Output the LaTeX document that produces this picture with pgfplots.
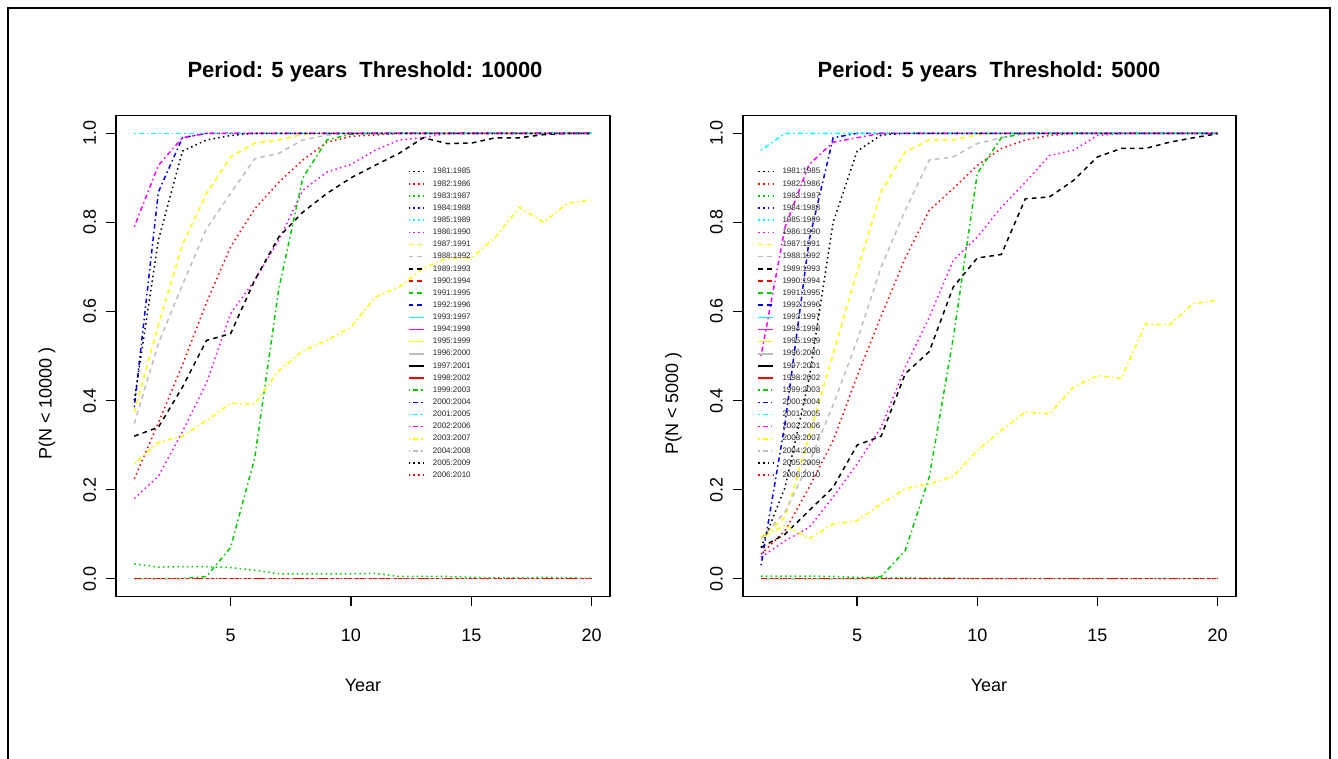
\documentclass[border=0pt]{standalone}
\usepackage{pgfplots}
\pgfplotsset{compat=1.18}
\usepackage{pgfplotstable}
\usepackage{fontspec}
\setmainfont{Liberation Sans}
\definecolor{rred}{HTML}{FF0000}
\definecolor{rgreen}{HTML}{00CD00}
\definecolor{rblue}{HTML}{0000FF}
\definecolor{rcyan}{HTML}{00FFFF}
\definecolor{rmag}{HTML}{FF00FF}
\definecolor{ryel}{HTML}{FFFF00}
\definecolor{rgray}{HTML}{BEBEBE}
\tikzset{
 rdot/.style={dash pattern=on 0.75pt off 1.65pt},
 rdash/.style={dash pattern=on 2.3pt off 2.1pt},
 rsol/.style={solid},
 rdd/.style={dash pattern=on 0.75pt off 1.6pt on 2.3pt off 1.6pt},
}
\pgfplotsset{
 every axis plot/.append style={line width=0.75pt},
 rbase/.style={
  scale only axis, anchor=north west,
  xmin=0.24, xmax=20.76, ymin=-0.04, ymax=1.04,
  xtick={5,10,15,20}, xticklabels={5,10,15,20},
  ytick={0,0.2,0.4,0.6,0.8,1}, yticklabels={0.0,0.2,0.4,0.6,0.8,1.0},
  tick align=outside, major tick length=5pt,
  xtick pos=lower, ytick pos=left,
  axis line style={line width=0.7pt},
  tick style={line width=0.7pt, black},
  xticklabel style={font=\fontsize{9}{10}\selectfont, inner sep=0pt, anchor=north},
  xticklabel shift=11pt,
  yticklabel style={font=\fontsize{9}{10}\selectfont, inner sep=0pt, rotate=90, anchor=south},
  yticklabel shift=4.75pt,
  legend style={anchor=north west, draw=none, fill=none, inner sep=0pt,
    font=\fontsize{4}{5}\selectfont, text=black!85,
    nodes={inner sep=0.5pt, text height=3pt, text depth=0.8pt},
    row sep=1.27pt, column sep=3.75pt},
  legend cell align=left,
  legend image code/.code={\draw[##1] (0pt,0pt) -- (7.5pt,0pt);},
  axis on top,
 },
}
\pgfplotstableread{
x y
1 0
2 0
3 0
4 0
5 0
6 0
7 0
8 0
9 0
10 0
11 0
12 0
13 0
14 0
15 0
16 0
17 0
18 0
19 0
20 0
}\zerotab
\begin{document}
\begin{tikzpicture}
\useasboundingbox (0,0) rectangle (669pt,379.5pt);
\draw[line width=1pt] (4pt,-2pt) -- (4pt,375.5pt) -- (665pt,375.5pt) -- (665pt,-2pt);
% ---------------- left panel
\begin{axis}[rbase, at={(58pt,321.75pt)}, width=247pt, height=240.5pt,
  legend style={at={(0.590,0.894)}}]
\addplot[black,rdot] table {\zerotab}; \addlegendentry{1981:1985}
\addplot[rred,rdot] coordinates {(1,0.224)(2,0.35)(3,0.48)(4,0.62)(5,0.745)(6,0.83)(7,0.89)(8,0.94)(9,0.98)(10,0.993)(11,0.996)(12,1)(13,1)(14,1)(15,1)(16,1)(17,1)(18,1)(19,1)(20,1)}; \addlegendentry{1982:1986}
\addplot[rgreen,rdot] coordinates {(1,0.033)(2,0.026)(3,0.027)(4,0.027)(5,0.025)(6,0.019)(7,0.011)(8,0.011)(9,0.011)(10,0.011)(11,0.012)(12,0.005)(13,0.005)(14,0.005)(15,0.003)(16,0.002)(17,0.002)(18,0.003)(19,0.002)(20,0.001)}; \addlegendentry{1983:1987}
\addplot[rblue,rdot] table {\zerotab}; \addlegendentry{1984:1988}
\addplot[rcyan,rdot] table {\zerotab}; \addlegendentry{1985:1989}
\addplot[rmag,rdot] coordinates {(1,0.18)(2,0.23)(3,0.33)(4,0.44)(5,0.595)(6,0.67)(7,0.76)(8,0.872)(9,0.913)(10,0.93)(11,0.962)(12,0.985)(13,0.99)(14,1)(15,1)(16,1)(17,1)(18,1)(19,1)(20,1)}; \addlegendentry{1986:1990}
\addplot[ryel,rdash] coordinates {(1,0.374)(2,0.57)(3,0.75)(4,0.865)(5,0.947)(6,0.978)(7,0.985)(8,0.998)(9,1)(10,1)(11,1)(12,1)(13,1)(14,1)(15,1)(16,1)(17,1)(18,1)(19,1)(20,1)}; \addlegendentry{1987:1991}
\addplot[rgray,rdash] coordinates {(1,0.348)(2,0.528)(3,0.66)(4,0.786)(5,0.865)(6,0.943)(7,0.955)(8,0.985)(9,0.996)(10,1)(11,1)(12,1)(13,1)(14,1)(15,1)(16,1)(17,1)(18,1)(19,1)(20,1)}; \addlegendentry{1988:1992}
\addplot[black,rdash] coordinates {(1,0.32)(2,0.34)(3,0.43)(4,0.535)(5,0.55)(6,0.67)(7,0.767)(8,0.823)(9,0.865)(10,0.90)(11,0.928)(12,0.955)(13,0.99)(14,0.977)(15,0.978)(16,0.99)(17,0.99)(18,0.997)(19,1)(20,1)}; \addlegendentry{1989:1993}
\addplot[rred,rdash] table {\zerotab}; \addlegendentry{1990:1994}
\addplot[rgreen,rdash] table {\zerotab}; \addlegendentry{1991:1995}
\addplot[rblue,rdash] table {\zerotab}; \addlegendentry{1992:1996}
\addplot[rcyan,rsol] table {\zerotab}; \addlegendentry{1993:1997}
\addplot[rmag,rsol] table {\zerotab}; \addlegendentry{1994:1998}
\addplot[ryel,rsol] table {\zerotab}; \addlegendentry{1995:1999}
\addplot[rgray,rsol] table {\zerotab}; \addlegendentry{1996:2000}
\addplot[black,rsol] table {\zerotab}; \addlegendentry{1997:2001}
\addplot[rred,rsol] table {\zerotab}; \addlegendentry{1998:2002}
\addplot[rgreen,rdd] coordinates {(1,0)(2,0)(3,0)(4,0.005)(5,0.07)(6,0.27)(7,0.65)(8,0.90)(9,0.985)(10,0.998)(11,1)(12,1)(13,1)(14,1)(15,1)(16,1)(17,1)(18,1)(19,1)(20,1)}; \addlegendentry{1999:2003}
\addplot[rblue,rdd] coordinates {(1,0.385)(2,0.868)(3,0.99)(4,1)(5,1)(6,1)(7,1)(8,1)(9,1)(10,1)(11,1)(12,1)(13,1)(14,1)(15,1)(16,1)(17,1)(18,1)(19,1)(20,1)}; \addlegendentry{2000:2004}
\addplot[rcyan,rdd] coordinates {(1,1)(2,1)(3,1)(4,1)(5,1)(6,1)(7,1)(8,1)(9,1)(10,1)(11,1)(12,1)(13,1)(14,1)(15,1)(16,1)(17,1)(18,1)(19,1)(20,1)}; \addlegendentry{2001:2005}
\addplot[rmag,rdd] coordinates {(1,0.79)(2,0.928)(3,0.99)(4,1)(5,1)(6,1)(7,1)(8,1)(9,1)(10,1)(11,1)(12,1)(13,1)(14,1)(15,1)(16,1)(17,1)(18,1)(19,1)(20,1)}; \addlegendentry{2002:2006}
\addplot[ryel,rdd] coordinates {(1,0.258)(2,0.306)(3,0.32)(4,0.355)(5,0.394)(6,0.392)(7,0.467)(8,0.512)(9,0.535)(10,0.565)(11,0.632)(12,0.655)(13,0.697)(14,0.72)(15,0.72)(16,0.767)(17,0.834)(18,0.80)(19,0.843)(20,0.85)}; \addlegendentry{2003:2007}
\addplot[rgray,rdd] table {\zerotab}; \addlegendentry{2004:2008}
\addplot[black,rdot] coordinates {(1,0.40)(2,0.76)(3,0.96)(4,0.985)(5,0.995)(6,1)(7,1)(8,1)(9,1)(10,1)(11,1)(12,1)(13,1)(14,1)(15,1)(16,1)(17,1)(18,1)(19,1)(20,1)}; \addlegendentry{2005:2009}
\addplot[rred,rdot] table {\zerotab}; \addlegendentry{2006:2010}
\end{axis}
% ---------------- right panel
\begin{axis}[rbase, at={(371.4pt,321.75pt)}, width=246.5pt, height=240.5pt,
  legend style={at={(0.029,0.894)}}]
\addplot[black,rdot] table {\zerotab}; \addlegendentry{1981:1985}
\addplot[rred,rdot] coordinates {(1,0.055)(2,0.108)(3,0.205)(4,0.31)(5,0.455)(6,0.59)(7,0.72)(8,0.827)(9,0.876)(10,0.928)(11,0.966)(12,0.985)(13,0.995)(14,1)(15,1)(16,1)(17,1)(18,1)(19,1)(20,1)}; \addlegendentry{1982:1986}
\addplot[rgreen,rdot] coordinates {(1,0.006)(2,0.006)(3,0.006)(4,0.005)(5,0.003)(6,0.002)(7,0.002)(8,0.001)(9,0.001)(10,0)(11,0)(12,0)(13,0)(14,0)(15,0)(16,0)(17,0)(18,0)(19,0)(20,0)}; \addlegendentry{1983:1987}
\addplot[rblue,rdot] table {\zerotab}; \addlegendentry{1984:1988}
\addplot[rcyan,rdot] table {\zerotab}; \addlegendentry{1985:1989}
\addplot[rmag,rdot] coordinates {(1,0.048)(2,0.085)(3,0.115)(4,0.183)(5,0.258)(6,0.34)(7,0.475)(8,0.587)(9,0.715)(10,0.767)(11,0.834)(12,0.89)(13,0.95)(14,0.962)(15,0.995)(16,1)(17,1)(18,1)(19,1)(20,1)}; \addlegendentry{1986:1990}
\addplot[ryel,rdash] coordinates {(1,0.093)(2,0.138)(3,0.32)(4,0.505)(5,0.69)(6,0.87)(7,0.958)(8,0.985)(9,0.985)(10,0.997)(11,1)(12,1)(13,1)(14,1)(15,1)(16,1)(17,1)(18,1)(19,1)(20,1)}; \addlegendentry{1987:1991}
\addplot[rgray,rdash] coordinates {(1,0.09)(2,0.15)(3,0.26)(4,0.39)(5,0.535)(6,0.70)(7,0.827)(8,0.94)(9,0.947)(10,0.977)(11,0.99)(12,1)(13,1)(14,1)(15,1)(16,1)(17,1)(18,1)(19,1)(20,1)}; \addlegendentry{1988:1992}
\addplot[black,rdash] coordinates {(1,0.07)(2,0.10)(3,0.153)(4,0.205)(5,0.30)(6,0.32)(7,0.46)(8,0.51)(9,0.655)(10,0.72)(11,0.728)(12,0.853)(13,0.857)(14,0.894)(15,0.947)(16,0.966)(17,0.966)(18,0.98)(19,0.99)(20,0.999)}; \addlegendentry{1989:1993}
\addplot[rred,rdash] table {\zerotab}; \addlegendentry{1990:1994}
\addplot[rgreen,rdash] table {\zerotab}; \addlegendentry{1991:1995}
\addplot[rblue,rdash] table {\zerotab}; \addlegendentry{1992:1996}
\addplot[rcyan,rsol] table {\zerotab}; \addlegendentry{1993:1997}
\addplot[rmag,rsol] table {\zerotab}; \addlegendentry{1994:1998}
\addplot[ryel,rsol] table {\zerotab}; \addlegendentry{1995:1999}
\addplot[rgray,rsol] table {\zerotab}; \addlegendentry{1996:2000}
\addplot[black,rsol] table {\zerotab}; \addlegendentry{1997:2001}
\addplot[rred,rsol] table {\zerotab}; \addlegendentry{1998:2002}
\addplot[rgreen,rdd] coordinates {(1,0)(2,0)(3,0)(4,0)(5,0)(6,0.005)(7,0.063)(8,0.228)(9,0.54)(10,0.91)(11,0.99)(12,1)(13,1)(14,1)(15,1)(16,1)(17,1)(18,1)(19,1)(20,1)}; \addlegendentry{1999:2003}
\addplot[rblue,rdd] coordinates {(1,0.03)(2,0.35)(3,0.76)(4,0.99)(5,1)(6,1)(7,1)(8,1)(9,1)(10,1)(11,1)(12,1)(13,1)(14,1)(15,1)(16,1)(17,1)(18,1)(19,1)(20,1)}; \addlegendentry{2000:2004}
\addplot[rcyan,rdd] coordinates {(1,0.962)(2,1)(3,1)(4,1)(5,1)(6,1)(7,1)(8,1)(9,1)(10,1)(11,1)(12,1)(13,1)(14,1)(15,1)(16,1)(17,1)(18,1)(19,1)(20,1)}; \addlegendentry{2001:2005}
\addplot[rmag,rdd] coordinates {(1,0.50)(2,0.79)(3,0.93)(4,0.98)(5,0.99)(6,1)(7,1)(8,1)(9,1)(10,1)(11,1)(12,1)(13,1)(14,1)(15,1)(16,1)(17,1)(18,1)(19,1)(20,1)}; \addlegendentry{2002:2006}
\addplot[ryel,rdd] coordinates {(1,0.092)(2,0.12)(3,0.09)(4,0.123)(5,0.13)(6,0.168)(7,0.202)(8,0.213)(9,0.23)(10,0.288)(11,0.333)(12,0.374)(13,0.37)(14,0.43)(15,0.456)(16,0.45)(17,0.572)(18,0.57)(19,0.618)(20,0.625)}; \addlegendentry{2003:2007}
\addplot[rgray,rdd] table {\zerotab}; \addlegendentry{2004:2008}
\addplot[black,rdot] coordinates {(1,0.07)(2,0.205)(3,0.45)(4,0.80)(5,0.96)(6,0.996)(7,1)(8,1)(9,1)(10,1)(11,1)(12,1)(13,1)(14,1)(15,1)(16,1)(17,1)(18,1)(19,1)(20,1)}; \addlegendentry{2005:2009}
\addplot[rred,rdot] table {\zerotab}; \addlegendentry{2006:2010}
\end{axis}
% ---------------- titles and labels
\node[font=\bfseries\fontsize{11}{13}\selectfont, anchor=base] at (182.5pt,340.5pt) {Period: 5 years\ \ Threshold: 10000};
\node[font=\bfseries\fontsize{11}{13}\selectfont, anchor=base] at (494.5pt,340.5pt) {Period: 5 years\ \ Threshold: 5000};
\node[font=\fontsize{9}{10}\selectfont, anchor=base] at (181.5pt,33.75pt) {Year};
\node[font=\fontsize{9}{10}\selectfont, anchor=base] at (494.5pt,33.75pt) {Year};
\node[font=\fontsize{9}{10}\selectfont, rotate=90, anchor=base] at (25.75pt,177.75pt) {P(N < 10000 )};
\node[font=\fontsize{9}{10}\selectfont, rotate=90, anchor=base] at (339pt,177.75pt) {P(N < 5000 )};
\end{tikzpicture}
\end{document}
